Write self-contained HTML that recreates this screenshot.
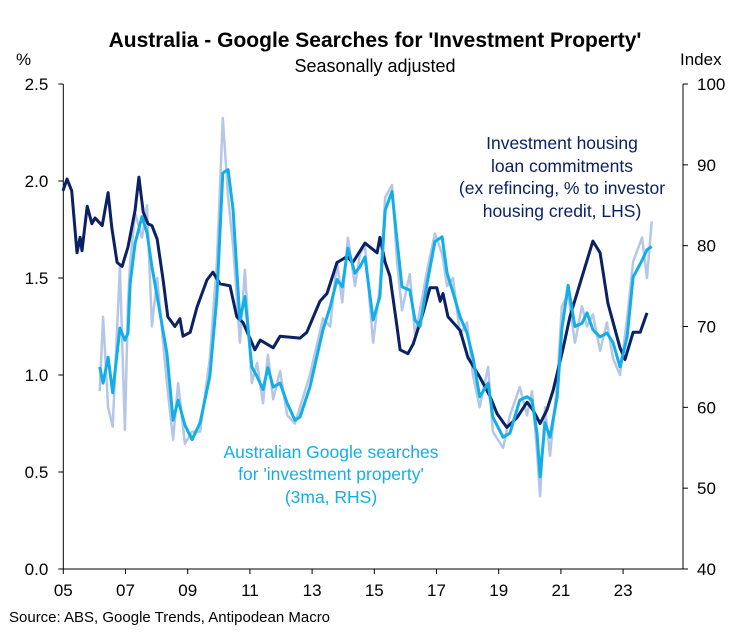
<!DOCTYPE html>
<html><head><meta charset="utf-8"><style>
body{margin:0;background:#fff;}
svg{display:block;font-family:"Liberation Sans",Arial,sans-serif;}
</style></head><body>
<svg id="chart" width="744" height="635" viewBox="0 0 744 635" xmlns="http://www.w3.org/2000/svg">
<text x="375" y="47" text-anchor="middle" font-size="21" font-weight="bold" fill="#000">Australia - Google Searches for 'Investment Property'</text>
<text x="375" y="72" text-anchor="middle" font-size="18" fill="#000">Seasonally adjusted</text>
<text x="16" y="65" font-size="17" fill="#000">%</text>
<text x="680" y="65" font-size="17" fill="#000">Index</text>
<g id="grid"></g>
<g id="series"></g>
<text text-anchor="middle" font-size="17.5" fill="#0b2163">
<tspan x="562" y="149">Investment housing</tspan><tspan x="562" y="172">loan commitments</tspan><tspan x="562" y="194">(ex refincing, % to investor</tspan><tspan x="562" y="217">housing credit, LHS)</tspan></text>
<text text-anchor="middle" font-size="17.5" fill="#13aee8">
<tspan x="331" y="458">Australian Google searches</tspan><tspan x="331" y="480">for 'investment property'</tspan><tspan x="331" y="503">(3ma, RHS)</tspan></text>
<text x="9" y="622" font-size="15" fill="#000">Source: ABS, Google Trends, Antipodean Macro</text>
</svg>
<script>
const xTickLabels=["05","07","09","11","13","15","17","19","21","23"];
const xTickYears=[2005,2007,2009,2011,2013,2015,2017,2019,2021,2023];
const leftTicks=[0.0,0.5,1.0,1.5,2.0,2.5];
const rightTicks=[40,50,60,70,80,90,100];
const navyYears=[2004.99,2005.12,2005.27,2005.44,2005.54,2005.60,2005.77,2005.92,2006.02,2006.25,2006.44,2006.56,2006.73,2006.89,2007.08,2007.31,2007.43,2007.57,2007.72,2007.85,2008.02,2008.21,2008.36,2008.59,2008.75,2008.85,2009.08,2009.30,2009.62,2009.81,2010.04,2010.36,2010.58,2010.78,2011.16,2011.33,2011.75,2011.97,2012.61,2012.83,2013.25,2013.48,2013.80,2014.12,2014.31,2014.70,2015.09,2015.18,2015.35,2015.50,2015.73,2015.83,2016.08,2016.25,2016.53,2016.79,2017.01,2017.12,2017.21,2017.37,2017.76,2018.01,2018.39,2018.72,2018.95,2019.26,2019.59,2019.91,2020.10,2020.33,2020.55,2020.75,2021.06,2021.29,2021.61,2022.03,2022.26,2022.51,2022.90,2023.06,2023.32,2023.55,2023.77];
const navyValues=[1.95,2.01,1.95,1.63,1.71,1.64,1.87,1.78,1.81,1.77,1.94,1.76,1.58,1.56,1.66,1.85,2.02,1.84,1.78,1.77,1.70,1.49,1.30,1.25,1.29,1.20,1.22,1.35,1.49,1.53,1.47,1.46,1.30,1.27,1.13,1.18,1.14,1.20,1.19,1.22,1.38,1.42,1.58,1.61,1.58,1.68,1.63,1.71,1.58,1.51,1.25,1.13,1.11,1.16,1.30,1.45,1.45,1.38,1.42,1.30,1.23,1.09,0.99,0.89,0.80,0.73,0.78,0.86,0.82,0.75,0.82,0.92,1.13,1.30,1.47,1.69,1.63,1.37,1.14,1.08,1.22,1.22,1.32];
const searchYears=[2006.17,2006.28,2006.44,2006.59,2006.82,2006.98,2007.08,2007.15,2007.31,2007.53,2007.69,2007.85,2008.02,2008.33,2008.53,2008.69,2008.91,2009.14,2009.40,2009.71,2009.94,2010.13,2010.30,2010.46,2010.68,2010.84,2011.06,2011.23,2011.42,2011.58,2011.75,2011.97,2012.20,2012.45,2012.61,2012.93,2013.35,2013.58,2013.80,2013.97,2014.15,2014.38,2014.54,2014.70,2014.96,2015.18,2015.35,2015.57,2015.73,2015.89,2016.14,2016.31,2016.47,2016.70,2016.95,2017.18,2017.34,2017.53,2017.76,2017.98,2018.17,2018.39,2018.66,2018.81,2019.14,2019.36,2019.68,2019.91,2020.07,2020.23,2020.33,2020.49,2020.65,2020.88,2021.03,2021.23,2021.45,2021.68,2021.84,2022.03,2022.26,2022.48,2022.68,2022.90,2023.13,2023.32,2023.61,2023.77,2023.92];
const search3ma=[65.0,63.0,66.2,61.8,69.8,68.3,69.2,75.4,80.3,83.6,81.6,77.4,73.7,66.7,58.4,60.9,57.8,56.0,58.1,63.8,73.7,89.0,89.4,84.4,70.8,73.7,65.0,63.8,62.2,64.9,62.5,63.0,60.5,58.4,58.8,62.5,69.6,72.4,75.8,74.9,79.7,76.6,77.4,78.6,70.8,73.7,84.4,86.7,80.7,74.9,74.5,70.8,70.0,75.4,80.5,81.1,76.6,74.2,71.2,69.2,66.2,61.3,63.0,58.8,56.3,56.8,60.9,61.3,60.9,56.8,51.4,58.1,56.3,61.3,69.6,75.1,70.0,70.4,71.7,69.6,68.7,69.2,68.0,65.0,68.7,76.1,78.2,79.5,79.9];
const searchRaw=[62.0,71.2,60.0,57.6,77.4,57.2,73.0,78.0,84.0,81.0,85.0,70.0,76.0,63.0,56.0,63.0,55.5,57.0,57.0,66.0,78.0,95.8,86.0,80.0,68.0,77.0,63.0,65.5,60.5,66.5,61.0,64.5,59.0,58.0,60.0,64.0,71.0,70.0,78.0,73.0,81.0,75.0,79.0,80.0,68.0,75.0,86.0,87.5,78.0,72.0,76.5,69.0,72.0,77.0,81.5,79.0,75.0,76.0,69.0,70.5,64.0,60.0,65.0,57.0,55.0,59.0,62.5,59.0,62.0,54.5,49.0,60.0,54.0,63.0,72.5,74.0,68.0,72.5,70.0,71.5,67.0,70.5,66.0,64.0,71.0,78.0,81.0,76.0,83.0];

const NS="http://www.w3.org/2000/svg";
const X0=63.3,X1=683,Y0=569,Y1=84;
function xScale(yr){return X0+(yr-2005)*31.1;}
function yLeft(v){return Y0-(v/2.5)*(Y0-Y1);}
function yRight(v){return Y0-((v-40)/60)*(Y0-Y1);}
function mk(tag,attrs,parent){const e=document.createElementNS(NS,tag);for(const k in attrs)e.setAttribute(k,attrs[k]);parent.appendChild(e);return e;}
const grid=document.getElementById('grid');
const series=document.getElementById('series');

let la=mk('line',{x1:X0,y1:Y1,x2:X0,y2:Y0,stroke:'#000','stroke-width':1},grid);


let ra=mk('line',{x1:X1,y1:Y1,x2:X1,y2:Y0,stroke:'#000','stroke-width':1},grid);


let ba=mk('line',{x1:X0,y1:Y0,x2:X1,y2:Y0,stroke:'#000','stroke-width':1},grid);



leftTicks.forEach(v=>{const y=yLeft(v);
 mk('line',{x1:X0-5,y1:y,x2:X0,y2:y,stroke:'#000'},grid);
 const t=mk('text',{x:X0-15,y:y+6,'text-anchor':'end','font-size':17,fill:'#000'},grid);
 t.textContent=v.toFixed(1);
 
 
});
rightTicks.forEach(v=>{const y=yRight(v);
 mk('line',{x1:X1,y1:y,x2:X1+5,y2:y,stroke:'#000'},grid);
 const t=mk('text',{x:X1+14,y:y+6,'font-size':17,fill:'#000'},grid);
 t.textContent=v;
 
 
});
xTickYears.forEach((yr,i)=>{const x=xScale(yr);
 mk('line',{x1:x,y1:Y0,x2:x,y2:Y0+5,stroke:'#000'},grid);
 const t=mk('text',{x:x,y:Y0+27,'text-anchor':'middle','font-size':17,fill:'#000'},grid);
 t.textContent=xTickLabels[i];
 
 
});
function path(xs,ys,fy){return xs.map((x,i)=>(i?'L':'M')+xScale(x).toFixed(1)+','+fy(ys[i]).toFixed(1)).join(' ');}
const p1=mk('path',{d:path(searchYears,searchRaw,yRight),fill:'none',stroke:'#b4c7e7','stroke-width':2.5,'stroke-linejoin':'round'},series);


const p2=mk('path',{d:path(navyYears,navyValues,yLeft),fill:'none',stroke:'#0b2163','stroke-width':3,'stroke-linejoin':'round'},series);


const p3=mk('path',{d:path(searchYears,search3ma,yRight),fill:'none',stroke:'#13aee8','stroke-width':3,'stroke-linejoin':'round'},series);


</script>
</body></html>
